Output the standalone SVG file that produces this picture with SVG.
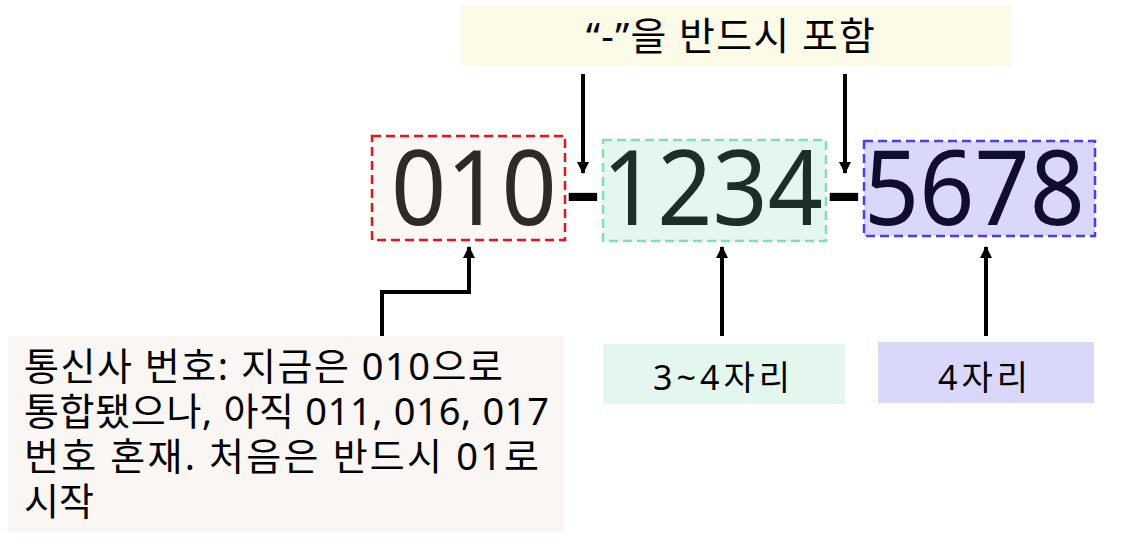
<svg xmlns="http://www.w3.org/2000/svg" width="1145" height="547" viewBox="0 0 1145 547">
  <defs>
    <marker id="ah" viewBox="0 0 12 12" refX="11" refY="6" markerWidth="12" markerHeight="12" markerUnits="userSpaceOnUse" orient="auto">
      <path d="M0,0 L12,6 L0,12 Z" fill="#000"/>
    </marker>
    <style>
      .lbl { font-family: "Noto Sans", "Noto Sans CJK KR", sans-serif; fill: #000; }
      .big { font-family: "Noto Sans", "Noto Sans CJK KR", sans-serif; font-size: 105px; }
      .conn { stroke: #000; stroke-width: 4; fill: none; marker-end: url(#ah); }
      .box { stroke-width: 2.5; stroke-dasharray: 9 5; }
    </style>
  </defs>
  <rect width="1145" height="547" fill="#fff"/>

  <g id="note-top">
    <rect x="461" y="5" width="551" height="61" fill="#fcfbe8"/>
    <text class="lbl" x="586" y="50" font-size="39" textLength="289">“-”을 반드시 포함</text>
  </g>

  <g id="part-010">
    <rect class="box" x="372" y="136" width="193" height="104" fill="#faf7f4" stroke="#e8141c"/>
    <text class="big" transform="translate(391 225) scale(0.92 1)" fill="#2f2a26">010</text>
  </g>
  <g id="dash-1">
    <text class="big" transform="translate(564 225) scale(1.12 1)" fill="#000">-</text>
  </g>
  <g id="part-1234">
    <rect class="box" x="603" y="140" width="223" height="101" fill="#e3f7ee" stroke="#86dcb7"/>
    <text class="big" transform="translate(602 225) scale(0.92 1)" fill="#1c2f26">1234</text>
  </g>
  <g id="dash-2">
    <text class="big" transform="translate(825 225) scale(1.12 1)" fill="#000">-</text>
  </g>
  <g id="part-5678">
    <rect class="box" x="864" y="141" width="231" height="95" fill="#d9d8fb" stroke="#4a3ff0"/>
    <text class="big" transform="translate(864 225) scale(0.92 1)" fill="#110d2e">5678</text>
  </g>

  <g id="note-carrier">
    <rect x="8" y="336" width="556" height="197" fill="#faf6f3"/>
    <text class="lbl" font-size="38" x="24" y="380" textLength="479">통신사 번호: 지금은 010으로</text>
    <text class="lbl" font-size="38" x="24" y="425" textLength="525">통합됐으나, 아직 011, 016, 017</text>
    <text class="lbl" font-size="38" x="24" y="470" textLength="515">번호 혼재. 처음은 반드시 01로</text>
    <text class="lbl" font-size="38" x="24" y="515" textLength="70">시작</text>
  </g>

  <g id="note-mid">
    <rect x="603" y="344" width="242" height="60" fill="#e3f7ee"/>
    <text class="lbl" x="653" y="390" font-size="34" textLength="137">3~4자리</text>
  </g>

  <g id="note-last">
    <rect x="878" y="342" width="216" height="61" fill="#d9d8fb"/>
    <text class="lbl" x="938" y="390" font-size="34" textLength="90">4자리</text>
  </g>

  <g id="connectors">
    <path class="conn" d="M583 74 V173"/>
    <path class="conn" d="M845 74 V173"/>
    <path class="conn" d="M382 336 V292 H469 V247"/>
    <path class="conn" d="M722 336 V247"/>
    <path class="conn" d="M986 336 V247"/>
  </g>
</svg>
